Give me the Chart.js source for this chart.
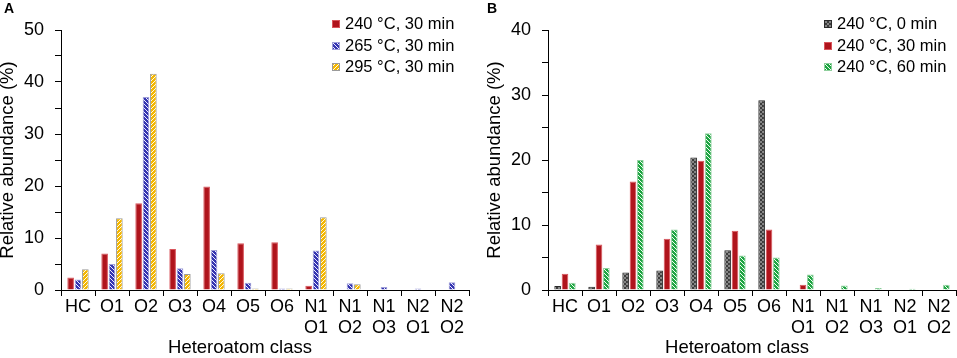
<!DOCTYPE html>
<html><head><meta charset="utf-8">
<script src="https://cdn.jsdelivr.net/npm/chart.js@4/dist/chart.umd.min.js"></script>
<style>
body{margin:0;width:957px;height:358px;position:relative;background:#fff;overflow:hidden;font-family:"Liberation Sans",Arial,sans-serif;color:#000}
.wrap{position:absolute;top:0;height:358px}
#wa{left:0;width:478px}
#wb{left:487px;width:470px}
.lbl{position:absolute;font-weight:bold;font-size:14px;line-height:14px}
.legend{position:absolute;font-size:16.5px;line-height:21.7px}
.legend div{display:flex;align-items:center;white-space:nowrap;height:21.7px}
.legend canvas{width:8px;height:8px;margin-right:5px;display:block}
.xt{position:absolute;top:337px;width:200px;text-align:center;font-size:18.5px;line-height:20px;white-space:nowrap}
</style></head>
<body>
<div class="wrap" id="wa"><canvas id="ca" width="478" height="358"></canvas></div>
<div class="wrap" id="wb"><canvas id="cb" width="470" height="358"></canvas></div>
<div class="lbl" style="left:4px;top:1px">A</div>
<div class="lbl" style="left:487px;top:1px">B</div>
<div class="legend" id="lega" style="left:332px;top:13px"></div>
<div class="legend" id="legb" style="left:824px;top:13px"></div>
<div class="xt" id="xta" style="left:140px"></div>
<div class="xt" id="xtb" style="left:637px"></div>
<script>
// ---- data ----
const categories = ['HC','O1','O2','O3','O4','O5','O6',['N1','O1'],['N1','O2'],['N1','O3'],['N2','O1'],['N2','O2']];
const seriesNamesA = ['240 °C, 30 min','265 °C, 30 min','295 °C, 30 min'];
const a240_30 = [2.4, 7.0, 16.7, 7.9, 19.9, 9.0, 9.2, 0.8, 0, 0, 0, 0];
const a265_30 = [2.0, 5.0, 37.1, 4.2, 7.7, 1.4, 0.3, 7.6, 1.3, 0.6, 0.3, 1.5];
const a295_30 = [4.0, 13.8, 41.6, 3.1, 3.2, 0.3, 0.3, 14.0, 1.1, 0, 0, 0];
const seriesNamesB = ['240 °C, 0 min','240 °C, 30 min','240 °C, 60 min'];
const b240_0  = [0.6, 0.5, 2.7, 3.0, 20.4, 6.1, 29.2, 0, 0, 0, 0, 0];
const b240_30 = [2.5, 7.0, 16.7, 7.9, 19.9, 9.1, 9.3, 0.8, 0, 0, 0, 0];
const b240_60 = [1.1, 3.4, 20.0, 9.3, 24.1, 5.3, 5.0, 2.4, 0.7, 0.3, 0.2, 0.8];
const yMaxA = 50, yMaxB = 40, yStep = 5, yLabelStep = 10;
const xTitle = 'Heteroatom class';
const yTitle = 'Relative abundance (%)';

// ---- styles ----
const FONT = '"Liberation Sans", Arial, sans-serif';
function hatch(bg, fg, mode){
  const c = document.createElement('canvas'); c.width = 4; c.height = 4;
  const x = c.getContext('2d');
  x.fillStyle = fg; x.fillRect(0,0,4,4);
  x.fillStyle = bg;
  for(let i=0;i<4;i++){
    if(mode==='back'){ x.fillRect(i,i,1,1); }
    else if(mode==='fwd'){ x.fillRect(3-i,i,1,1); }
    else { x.fillRect(i,i,1,1); x.fillRect(3-i,i,1,1); }
  }
  return c;
}
const ctxTmp = document.createElement('canvas').getContext('2d');
function pat(bg, fg, mode){ return ctxTmp.createPattern(hatch(bg,fg,mode),'repeat'); }
const styles = {
  red:   {bg:'#B0141C', border:'#D9545B'},
  blue:  {bg:pat('#ececff','#3434b0','back'), border:'#a0a0d8'},
  yellow:{bg:pat('#fffbe6','#F4B600','fwd'), border:'#9b9b9b'},
  gray:  {bg:pat('#858585','#3c3c3c','cross'), border:'#2a2a2a'},
  green: {bg:pat('#f0fff2','#1ea442','back'), border:'#8fcf9d'}
};

function ds(label, data, st){
  return {label, data, backgroundColor: st.bg, borderColor: st.border, borderWidth: 1,
          categoryPercentage: 0.65, barPercentage: 0.9};
}

function makeChart(id, datasets, yMax, padRight){
  return new Chart(document.getElementById(id), {
    type: 'bar',
    data: {labels: categories, datasets},
    options: {
      responsive: false, animation: false, devicePixelRatio: 1,
      layout: {padding: {top: 30, right: padRight, left: 0, bottom: 0}},
      plugins: {legend: {display: false}, tooltip: {enabled: false}},
      scales: {
        x: {
          grid: {display: true, drawOnChartArea: false, drawTicks: true, tickLength: 6, color: '#000', offset: true},
          border: {display: true, color: '#000', width: 1},
          ticks: {color: '#000', font: {family: FONT, size: 18, lineHeight: 1.2}, padding: 0, autoSkip: false, maxRotation: 0, minRotation: 0},
          title: {display: false, text: xTitle},
          afterFit: s => { s.height = 68; }
        },
        y: {
          min: 0, max: yMax,
          grid: {display: true, drawOnChartArea: false, drawTicks: true, tickLength: 6, color: '#000'},
          border: {display: true, color: '#000', width: 1},
          ticks: {stepSize: yStep, color: '#000', font: {family: FONT, size: 18}, padding: 11,
                  callback: v => (v % yLabelStep === 0 ? String(v) : '')},
          title: {display: true, text: yTitle, color: '#000', font: {family: FONT, size: 18.5, lineHeight: 0.82}, padding: {top: 0, bottom: 0}},
          afterFit: s => { s.width = 61; }
        }
      }
    }
  });
}

const dsA = [ds(seriesNamesA[0], a240_30, styles.red), ds(seriesNamesA[1], a265_30, styles.blue), ds(seriesNamesA[2], a295_30, styles.yellow)];
const dsB = [ds(seriesNamesB[0], b240_0, styles.gray), ds(seriesNamesB[1], b240_30, styles.red), ds(seriesNamesB[2], b240_60, styles.green)];
makeChart('ca', dsA, yMaxA, 9);
makeChart('cb', dsB, yMaxB, 1);
document.getElementById('xta').textContent = xTitle;
document.getElementById('xtb').textContent = xTitle;

function legend(id, dsets){
  const el = document.getElementById(id);
  dsets.forEach(d => {
    const row = document.createElement('div');
    const sw = document.createElement('canvas'); sw.width = 8; sw.height = 8;
    const c = sw.getContext('2d');
    c.fillStyle = d.backgroundColor; c.fillRect(0,0,8,8);
    c.strokeStyle = d.borderColor; c.lineWidth = 1; c.strokeRect(0.5,0.5,7,7);
    const t = document.createElement('span'); t.textContent = d.label;
    row.appendChild(sw); row.appendChild(t); el.appendChild(row);
  });
}
legend('lega', dsA);
legend('legb', dsB);
</script>
</body></html>
